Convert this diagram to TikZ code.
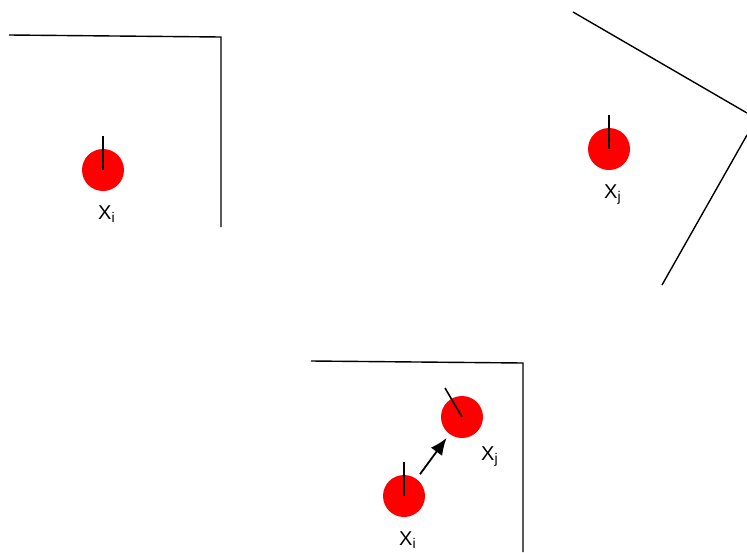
\documentclass[tikz,border=0pt]{standalone}
\usepackage{fontspec}
\setmainfont{Liberation Sans}
\usetikzlibrary{arrows.meta}
\begin{document}
\begin{tikzpicture}[x=1pt,y=-1pt,
  frame/.style={line width=1.4pt,black},
  ball/.style={circle,fill=red,minimum size=42pt,inner sep=0pt,outer sep=0pt},
  tick/.style={line width=1.6pt,black},
  lbl/.style={anchor=base west,inner sep=0pt,font=\fontsize{20}{24}\selectfont},
  move/.style={line width=1.8pt,-{Latex[length=17pt,width=14pt]},shorten <=6pt,shorten >=5pt}]
\useasboundingbox (0,0) rectangle (747,552);
% top-left panel
\draw[frame] (9,35) -- (221,37) -- (221,227);
\node[ball] (xi1) at (103,170) {};
\draw[tick] (xi1.center) -- ++(0,-34);
\node[lbl] (li1) at (98,219) {X\textsubscript{i}};
% top-right panel
\draw[frame] (573,12) -- (747,113);
\draw[frame] (747,135) -- (662,285);
\node[ball] (xj1) at (609,149) {};
\draw[tick] (xj1.center) -- ++(0,-34);
\node[lbl] (lj1) at (604,198) {X\textsubscript{j}};
% bottom panel
\draw[frame] (311,361) -- (523,363) -- (523,552);
\node[ball] (xi2) at (404,496) {};
\draw[tick] (xi2.center) -- ++(0,-34);
\node[lbl] (li2) at (399,545) {X\textsubscript{i}};
\node[ball] (xj2) at (462,417) {};
\draw[tick] (xj2.center) -- (445,388);
\node[lbl] (lj2) at (481,460) {X\textsubscript{j}};
\draw[move] (xi2) -- (xj2);
\end{tikzpicture}
\end{document}
